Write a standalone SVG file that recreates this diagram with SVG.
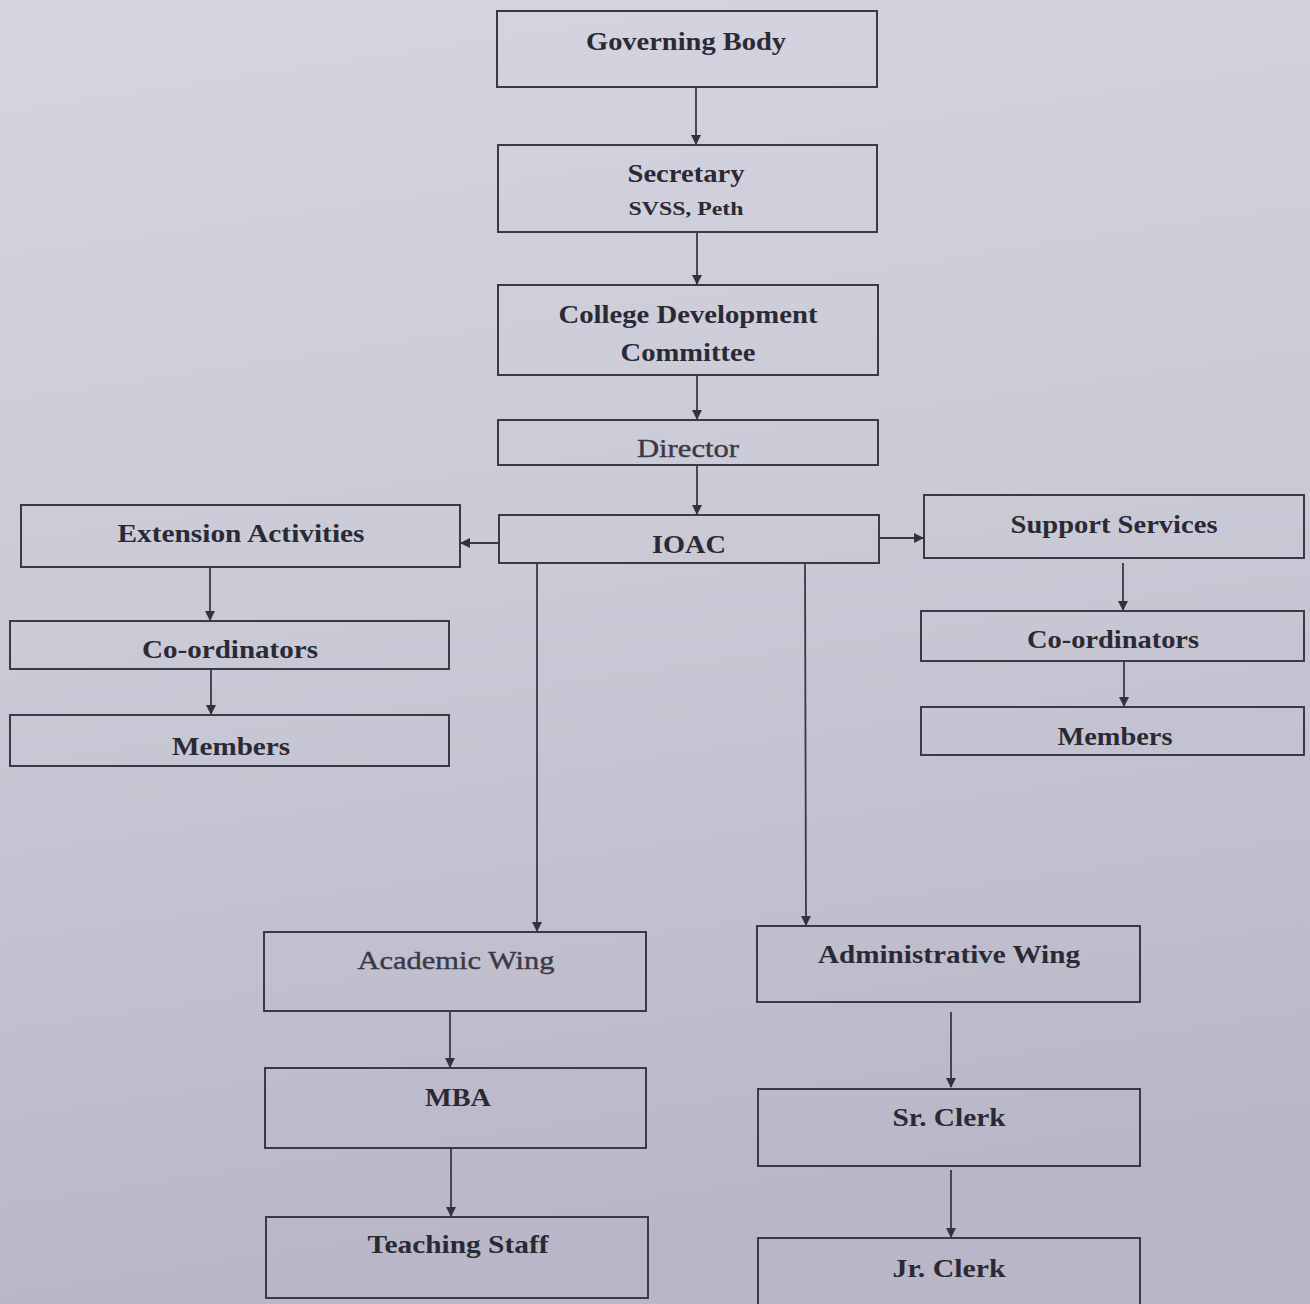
<svg xmlns="http://www.w3.org/2000/svg" width="1310" height="1304" viewBox="0 0 1310 1304">
<defs>
<linearGradient id="bg" x1="0" y1="0" x2="0.15" y2="1">
<stop offset="0" stop-color="#d5d4e0"/>
<stop offset="0.5" stop-color="#cac9d6"/>
<stop offset="1" stop-color="#b9b7c7"/>
</linearGradient>
<marker id="ah" markerWidth="10" markerHeight="10" refX="9" refY="5" orient="auto" markerUnits="userSpaceOnUse">
<path d="M0,0 L10,5 L0,10 Z" fill="#33333d"/>
</marker>
<style>
.box{fill:none;stroke:#3a3a46;stroke-width:2}
.t{font-family:"Liberation Serif","Times New Roman",serif;font-weight:bold;font-size:26px;fill:#2a2a34;text-anchor:middle}
.l{font-weight:normal;fill:#3a3a46;stroke:#3a3a46;stroke-width:0.4}
.s{font-size:19px}
.c{fill:none;stroke:#3a3a46;stroke-width:1.8;marker-end:url(#ah)}
</style>
</defs>
<rect width="1310" height="1304" fill="url(#bg)"/>
<g id="connectors">
<line class="c" x1="696" y1="87" x2="696" y2="144"/>
<line class="c" x1="697" y1="232" x2="697" y2="284"/>
<line class="c" x1="697" y1="376" x2="697" y2="419"/>
<line class="c" x1="697" y1="465" x2="697" y2="514"/>
<line class="c" x1="499" y1="543" x2="461" y2="543"/>
<line class="c" x1="880" y1="538" x2="923" y2="538"/>
<line class="c" x1="210" y1="568" x2="210" y2="620"/>
<line class="c" x1="211" y1="670" x2="211" y2="714"/>
<line class="c" x1="1123" y1="563" x2="1123" y2="610"/>
<line class="c" x1="1124" y1="662" x2="1124" y2="706"/>
<line class="c" x1="537" y1="564" x2="537" y2="931"/>
<line class="c" x1="805" y1="564" x2="806" y2="925"/>
<line class="c" x1="450" y1="1011" x2="450" y2="1067"/>
<line class="c" x1="451" y1="1148" x2="451" y2="1216"/>
<line class="c" x1="951" y1="1012" x2="951" y2="1087"/>
<line class="c" x1="951" y1="1170" x2="951" y2="1237"/>
</g>
<g id="governing-body"><rect class="box" x="497" y="11" width="380" height="76"/><text class="t" x="686" y="50" textLength="200" lengthAdjust="spacingAndGlyphs">Governing Body</text></g>
<g id="secretary"><rect class="box" x="498" y="145" width="379" height="87"/><text class="t" x="686" y="182" textLength="117" lengthAdjust="spacingAndGlyphs">Secretary</text><text class="t s" x="686" y="215" textLength="115" lengthAdjust="spacingAndGlyphs">SVSS, Peth</text></g>
<g id="cdc"><rect class="box" x="498" y="285" width="380" height="90"/><text class="t" x="688" y="323" textLength="259" lengthAdjust="spacingAndGlyphs">College Development</text><text class="t" x="688" y="361" textLength="135" lengthAdjust="spacingAndGlyphs">Committee</text></g>
<g id="director"><rect class="box" x="498" y="420" width="380" height="45"/><text class="t l" x="688" y="457" textLength="102" lengthAdjust="spacingAndGlyphs">Director</text></g>
<g id="ioac"><rect class="box" x="499" y="515" width="380" height="48"/><text class="t" x="689" y="553" textLength="74" lengthAdjust="spacingAndGlyphs">IOAC</text></g>
<g id="extension-activities"><rect class="box" x="21" y="505" width="439" height="62"/><text class="t" x="241" y="542" textLength="247" lengthAdjust="spacingAndGlyphs">Extension Activities</text></g>
<g id="ext-coordinators"><rect class="box" x="10" y="621" width="439" height="48"/><text class="t" x="230" y="658" textLength="176" lengthAdjust="spacingAndGlyphs">Co-ordinators</text></g>
<g id="ext-members"><rect class="box" x="10" y="715" width="439" height="51"/><text class="t" x="231" y="755" textLength="118" lengthAdjust="spacingAndGlyphs">Members</text></g>
<g id="support-services"><rect class="box" x="924" y="495" width="380" height="63"/><text class="t" x="1114" y="533" textLength="207" lengthAdjust="spacingAndGlyphs">Support Services</text></g>
<g id="sup-coordinators"><rect class="box" x="921" y="611" width="383" height="50"/><text class="t" x="1113" y="648" textLength="172" lengthAdjust="spacingAndGlyphs">Co-ordinators</text></g>
<g id="sup-members"><rect class="box" x="921" y="707" width="383" height="48"/><text class="t" x="1115" y="745" textLength="115" lengthAdjust="spacingAndGlyphs">Members</text></g>
<g id="academic-wing"><rect class="box" x="264" y="932" width="382" height="79"/><text class="t l" x="456" y="969" textLength="197" lengthAdjust="spacingAndGlyphs">Academic Wing</text></g>
<g id="mba"><rect class="box" x="265" y="1068" width="381" height="80"/><text class="t" x="458" y="1106" textLength="66" lengthAdjust="spacingAndGlyphs">MBA</text></g>
<g id="teaching-staff"><rect class="box" x="266" y="1217" width="382" height="81"/><text class="t" x="458" y="1253" textLength="181" lengthAdjust="spacingAndGlyphs">Teaching Staff</text></g>
<g id="administrative-wing"><rect class="box" x="757" y="926" width="383" height="76"/><text class="t" x="949" y="963" textLength="262" lengthAdjust="spacingAndGlyphs">Administrative Wing</text></g>
<g id="sr-clerk"><rect class="box" x="758" y="1089" width="382" height="77"/><text class="t" x="949" y="1126" textLength="113" lengthAdjust="spacingAndGlyphs">Sr. Clerk</text></g>
<g id="jr-clerk"><rect class="box" x="758" y="1238" width="382" height="70"/><text class="t" x="949" y="1277" textLength="113" lengthAdjust="spacingAndGlyphs">Jr. Clerk</text></g>
</svg>
